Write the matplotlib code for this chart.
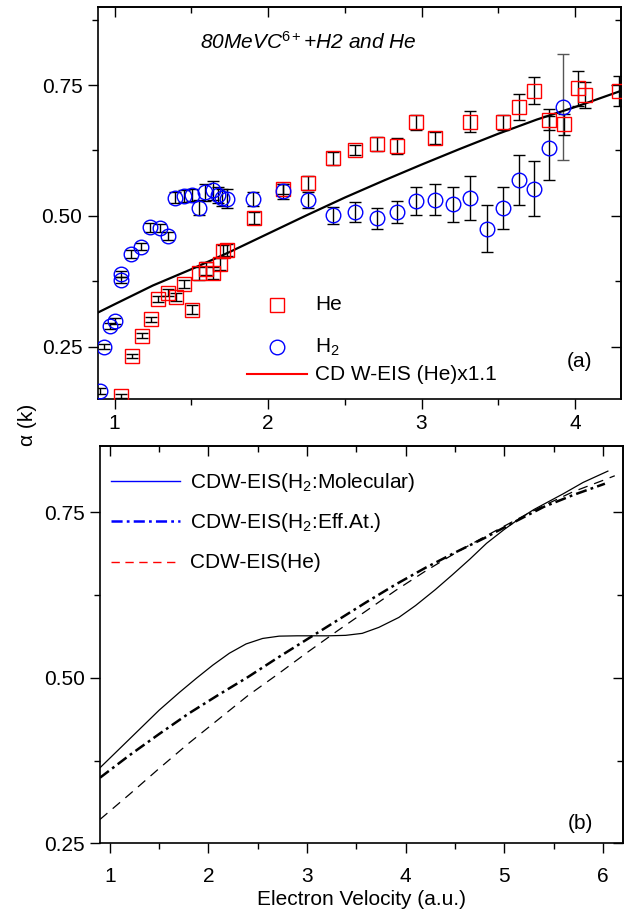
import matplotlib
matplotlib.use("Agg")
import matplotlib.pyplot as plt
from matplotlib.ticker import MultipleLocator
import numpy as np

plt.rcParams['font.family'] = ['Liberation Sans', 'DejaVu Sans']
plt.rcParams['mathtext.fontset'] = 'custom'
plt.rcParams['mathtext.rm'] = 'Liberation Sans'
plt.rcParams['mathtext.it'] = 'Liberation Sans:italic'
plt.rcParams['lines.scale_dashes'] = False

# ---------------- data: panel (a) ----------------
h2_x = [0.907, 0.928, 0.972, 1.005, 1.044, 1.044, 1.107, 1.174, 1.232, 1.293,
        1.351, 1.395, 1.449, 1.503, 1.553, 1.590, 1.640, 1.677, 1.699, 1.731,
        1.904, 2.096, 2.262, 2.421, 2.566, 2.707, 2.841, 2.967, 3.087, 3.206,
        3.319, 3.427, 3.531, 3.633, 3.731, 3.830, 3.921]
h2_y = [0.165, 0.250, 0.289, 0.299, 0.389, 0.378, 0.427, 0.441, 0.478, 0.477,
        0.461, 0.535, 0.538, 0.540, 0.516, 0.545, 0.549, 0.540, 0.535, 0.533,
        0.532, 0.547, 0.531, 0.501, 0.507, 0.495, 0.507, 0.528, 0.531, 0.522,
        0.535, 0.475, 0.515, 0.568, 0.552, 0.629, 0.708]
h2_err = [0.005, 0.005, 0.006, 0.006, 0.006, 0.006, 0.007, 0.007, 0.008, 0.008,
          0.008, 0.010, 0.011, 0.012, 0.015, 0.016, 0.018, 0.016, 0.017, 0.018,
          0.013, 0.014, 0.015, 0.016, 0.019, 0.020, 0.021, 0.027, 0.029, 0.033,
          0.042, 0.045, 0.040, 0.048, 0.053, 0.061, 0.101]

he_x = [1.042, 1.113, 1.178, 1.237, 1.286, 1.347, 1.401, 1.455, 1.504, 1.553,
        1.595, 1.644, 1.688, 1.705, 1.735, 1.911, 2.096, 2.262, 2.421, 2.566,
        2.707, 2.841, 2.967, 3.087, 3.319, 3.531, 3.633, 3.731, 3.830, 3.926,
        4.019, 4.062, 4.290]
he_y = [0.156, 0.232, 0.271, 0.302, 0.341, 0.353, 0.345, 0.370, 0.321, 0.390,
        0.399, 0.391, 0.408, 0.433, 0.435, 0.496, 0.551, 0.563, 0.610, 0.626,
        0.637, 0.634, 0.679, 0.649, 0.680, 0.679, 0.708, 0.739, 0.684, 0.675,
        0.744, 0.731, 0.739]
he_err = [0.004, 0.004, 0.005, 0.005, 0.006, 0.007, 0.007, 0.008, 0.008, 0.012,
          0.012, 0.012, 0.012, 0.012, 0.012, 0.012, 0.010, 0.013, 0.013, 0.010,
          0.013, 0.015, 0.014, 0.012, 0.020, 0.014, 0.025, 0.026, 0.020, 0.020,
          0.033, 0.025, 0.029]

theory_x = [0.89, 1.0, 1.25, 1.5, 1.75, 2.0, 2.25, 2.5, 2.75, 3.0, 3.25, 3.5, 3.75, 4.0, 4.3]
theory_y = [0.315, 0.331, 0.367, 0.398, 0.431, 0.466, 0.501, 0.535, 0.567, 0.598,
            0.628, 0.657, 0.684, 0.708, 0.739]

# ---------------- data: panel (b) ----------------
mol_x = [0.9, 1.1, 1.3, 1.5, 1.707, 1.876, 2.044, 2.212, 2.381, 2.549, 2.717,
         2.9, 3.054, 3.22, 3.391, 3.559, 3.727, 3.93, 4.1, 4.3, 4.47, 4.65,
         4.82, 5.0, 5.15, 5.3, 5.45, 5.6, 5.8, 6.05]
mol_y = [0.364, 0.393, 0.422, 0.451, 0.478, 0.499, 0.519, 0.537, 0.551,
         0.5593, 0.5628, 0.5633, 0.5633, 0.5633, 0.5640, 0.567, 0.576, 0.591,
         0.609, 0.633, 0.655, 0.679, 0.703, 0.724, 0.740, 0.754, 0.766, 0.778,
         0.795, 0.812]

eff_x = [0.9, 1.2, 1.5, 1.8, 2.1, 2.4, 2.7, 3.0, 3.3, 3.6, 3.9, 4.2, 4.5, 4.8,
         5.1, 5.4, 5.7, 6.02]
eff_y = [0.349, 0.383, 0.415, 0.446, 0.474, 0.501, 0.530, 0.558, 0.586, 0.614,
         0.641, 0.666, 0.689, 0.711, 0.735, 0.758, 0.776, 0.793]

he_th_x = [0.9, 1.2, 1.5, 1.8, 2.1, 2.4, 2.7, 3.0, 3.3, 3.6, 3.9, 4.2, 4.5, 4.8,
           5.1, 5.4, 5.7, 6.0, 6.12]
he_th_y = [0.286, 0.324, 0.363, 0.401, 0.437, 0.473, 0.505, 0.538, 0.570, 0.601,
           0.632, 0.661, 0.688, 0.713, 0.737, 0.760, 0.781, 0.798, 0.805]

FS = 15

fig = plt.figure(figsize=(6.28, 9.09), dpi=100)
ax1 = fig.add_axes([0.1556, 0.5611, 0.8333, 0.4316])
ax2 = fig.add_axes([0.1592, 0.0723, 0.8323, 0.4371])

# ---------- panel (a) ----------
ax = ax1
ax.set_xlim(0.89, 4.3)
ax.set_ylim(0.15, 0.9)
ax.xaxis.set_major_locator(MultipleLocator(1))
ax.xaxis.set_minor_locator(MultipleLocator(0.5))
ax.yaxis.set_major_locator(MultipleLocator(0.25))
ax.yaxis.set_minor_locator(MultipleLocator(0.125))
ax.yaxis.set_major_formatter(plt.FormatStrFormatter('%.2f'))

hx = np.array(h2_x); hy = np.array(h2_y); he_ = np.array(h2_err)
main = np.arange(len(hx)) < len(hx) - 1
ax.errorbar(hx[main], hy[main], yerr=he_[main], fmt='none', ecolor='black',
            elinewidth=1.0, capsize=4, capthick=1.0, zorder=2)
ax.errorbar(hx[~main], hy[~main], yerr=he_[~main], fmt='none', ecolor='#555555',
            elinewidth=1.0, capsize=4, capthick=1.0, zorder=2)
ax.errorbar(he_x, he_y, yerr=he_err, fmt='none', ecolor='black',
            elinewidth=1.0, capsize=4, capthick=1.0, zorder=2)
ax.plot(theory_x, theory_y, color='black', lw=1.6, zorder=3)
ax.plot(he_x, he_y, ls='none', marker='s', ms=9.5, mfc='none', mec='red', mew=1.0, zorder=4)
ax.plot(h2_x, h2_y, ls='none', marker='o', ms=10.5, mfc='none', mec='blue', mew=1.0, zorder=4)

# legend (a)
ax.plot([0.342], [0.2396], transform=ax.transAxes, marker='s', ms=9.5, mfc='none',
        mec='red', mew=1.0, ls='none')
ax.plot([0.342], [0.1326], transform=ax.transAxes, marker='o', ms=10.5, mfc='none',
        mec='blue', mew=1.0, ls='none')
ax.plot([0.285, 0.399], [0.063, 0.063], transform=ax.transAxes, color='red', lw=1.5)
ax.text(0.415, 0.2396, 'He', transform=ax.transAxes, fontsize=FS, va='center', ha='left')
ax.text(0.415, 0.1326, 'H$_2$', transform=ax.transAxes, fontsize=FS, va='center', ha='left')
ax.text(0.415, 0.063, 'CD W-EIS (He)x1.1', transform=ax.transAxes, fontsize=FS,
        va='center', ha='left')
ax.text(0.196, 0.9108, r'80MeVC$^{\mathit{6+}}$+H2 and He', transform=ax.transAxes,
        fontsize=FS, style='italic', va='center', ha='left')
ax.text(0.921, 0.095, '(a)', transform=ax.transAxes, fontsize=FS, va='center', ha='center')

# ---------- panel (b) ----------
ax = ax2
ax.set_xlim(0.9, 6.2)
ax.set_ylim(0.25, 0.85)
ax.xaxis.set_major_locator(MultipleLocator(1))
ax.xaxis.set_minor_locator(MultipleLocator(0.5))
ax.yaxis.set_major_locator(MultipleLocator(0.25))
ax.yaxis.set_minor_locator(MultipleLocator(0.125))
ax.yaxis.set_major_formatter(plt.FormatStrFormatter('%.2f'))

ax.plot(mol_x, mol_y, color='black', lw=0.9)
ax.plot(eff_x, eff_y, color='black', lw=1.8, dashes=(8, 3, 2, 3))
ax.plot(he_th_x, he_th_y, color='black', lw=0.9, dashes=(7, 5))

ax.plot([0.022, 0.1535], [0.912, 0.912], transform=ax.transAxes, color='blue', lw=1.0)
ax.plot([0.022, 0.1535], [0.811, 0.811], transform=ax.transAxes, color='blue', lw=1.8,
        dashes=(8, 3, 2, 3))
ax.plot([0.022, 0.1535], [0.708, 0.708], transform=ax.transAxes, color='red', lw=1.0,
        dashes=(6, 4))
ax.text(0.172, 0.908, 'CDW-EIS(H$_2$:Molecular)', transform=ax.transAxes, fontsize=FS,
        va='center', ha='left')
ax.text(0.172, 0.807, 'CDW-EIS(H$_2$:Eff.At.)', transform=ax.transAxes, fontsize=FS,
        va='center', ha='left')
ax.text(0.172, 0.706, 'CDW-EIS(He)', transform=ax.transAxes, fontsize=FS,
        va='center', ha='left')
ax.text(0.920, 0.051, '(b)', transform=ax.transAxes, fontsize=FS, va='center', ha='center')

for ax in (ax1, ax2):
    for s in ax.spines.values():
        s.set_linewidth(1.2)
    ax.tick_params(which='both', direction='out', labelsize=FS, width=1.0, pad=4)
    ax.tick_params(which='major', length=7)
    ax.tick_params(which='minor', length=4)
    # mirrored inward ticks on top and right
    tx = ax.secondary_xaxis('top')
    tx.xaxis.set_major_locator(MultipleLocator(1))
    tx.xaxis.set_minor_locator(MultipleLocator(0.5))
    tx.tick_params(which='both', direction='in', labeltop=False, width=1.0)
    tx.tick_params(which='major', length=7)
    tx.tick_params(which='minor', length=4)
    tx.spines['top'].set_linewidth(1.2)
    ty = ax.secondary_yaxis('right')
    ty.yaxis.set_major_locator(MultipleLocator(0.25))
    ty.yaxis.set_minor_locator(MultipleLocator(0.125))
    ty.tick_params(which='both', direction='in', labelright=False, width=1.0)
    ty.tick_params(which='major', length=7)
    ty.tick_params(which='minor', length=4)
    ty.spines['right'].set_linewidth(1.2)

ax2.tick_params(axis='x', which='both', pad=10)
ax2.set_xlabel('Electron Velocity (a.u.)', fontsize=FS, labelpad=3)

fig.text(0.043, 1 - 425 / 909, 'α (k)', rotation=90, va='center', ha='center', fontsize=FS)

fig.savefig('out.png', dpi=100)
